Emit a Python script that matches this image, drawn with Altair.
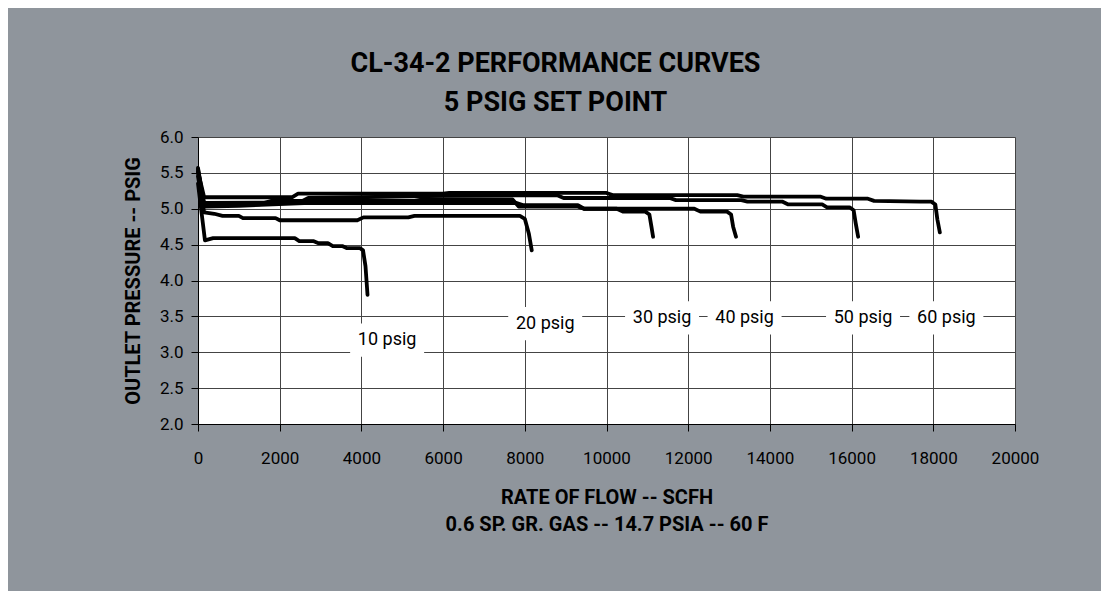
import altair as alt
import pandas as pd

# ---- data ----
flow_10 = [0, 170, 370, 2370, 2480, 2820, 2950, 3180, 3300, 3530, 3650, 3970, 4040, 4100, 4150]
p_10 = [5.35, 4.56, 4.59, 4.59, 4.55, 4.55, 4.52, 4.52, 4.48, 4.48, 4.45, 4.45, 4.42, 4.20, 3.80]

flow_20 = [0, 150, 400, 600, 1000, 1100, 1900, 2000, 3900, 4050, 5150, 5300, 7880, 8000, 8100, 8170]
p_20 = [5.45, 4.95, 4.93, 4.90, 4.90, 4.87, 4.87, 4.84, 4.84, 4.88, 4.88, 4.90, 4.90, 4.86, 4.65, 4.42]

flow_30 = [0, 150, 1000, 2600, 7800, 7950, 9300, 9450, 10250, 10400, 10950, 11050, 11100, 11140]
p_30 = [5.55, 5.03, 5.04, 5.08, 5.08, 5.05, 5.05, 5.00, 5.00, 4.96, 4.96, 4.92, 4.75, 4.61]

flow_40 = [0, 150, 1500, 1800, 5300, 5500, 7700, 7850, 9300, 9450, 12150, 12300, 12950, 13050, 13100, 13170]
p_40 = [5.57, 5.05, 5.06, 5.11, 5.11, 5.13, 5.13, 5.03, 5.03, 5.00, 5.00, 4.96, 4.96, 4.92, 4.75, 4.61]

flow_50 = [0, 150, 2500, 2700, 6000, 8780, 8950, 11550, 11700, 13300, 13450, 14300, 14450, 15280, 15400, 15950, 16050, 16100, 16160]
p_50 = [5.50, 5.08, 5.09, 5.15, 5.18, 5.19, 5.15, 5.15, 5.12, 5.12, 5.10, 5.10, 5.06, 5.06, 5.02, 5.02, 4.98, 4.80, 4.61]

flow_60 = [0, 150, 2300, 2450, 6000, 6150, 10000, 10150, 13200, 13350, 15230, 15380, 16400, 16550, 17680, 17950, 18050, 18100, 18160]
p_60 = [5.52, 5.16, 5.16, 5.21, 5.21, 5.22, 5.22, 5.19, 5.19, 5.17, 5.17, 5.14, 5.14, 5.11, 5.10, 5.10, 5.06, 4.85, 4.67]

curve_names = ["10 psig", "20 psig", "30 psig", "40 psig", "50 psig", "60 psig"]
curve_flows = [flow_10, flow_20, flow_30, flow_40, flow_50, flow_60]
curve_pressures = [p_10, p_20, p_30, p_40, p_50, p_60]

label_text = ["10 psig", "20 psig", "30 psig", "40 psig", "50 psig", "60 psig"]
label_flow = [4630, 8500, 11360, 13380, 16280, 18320]
label_pressure = [3.17, 3.40, 3.48, 3.48, 3.48, 3.48]

x_ticks = [0, 2000, 4000, 6000, 8000, 10000, 12000, 14000, 16000, 18000, 20000]
y_ticks = [2.0, 2.5, 3.0, 3.5, 4.0, 4.5, 5.0, 5.5, 6.0]

# ---- build tables ----
rows = []
for name, fl, pr in zip(curve_names, curve_flows, curve_pressures):
    for i, (f, p) in enumerate(zip(fl, pr)):
        rows.append({"curve": name, "flow": f, "pressure": p, "order": i})
df = pd.DataFrame(rows)
labels = pd.DataFrame({"text": label_text, "flow": label_flow, "pressure": label_pressure})

FONT = "Roboto, Liberation Sans, sans-serif"
BG = "#8f959c"

x_axis = alt.Axis(
    values=x_ticks, format="d",
    title=["RATE OF FLOW -- SCFH", "0.6 SP. GR. GAS -- 14.7 PSIA -- 60 F"],
    titleFont=FONT, titleFontSize=20, titleFontWeight="bold", titleColor="black",
    titleLineHeight=27, titlePadding=21,
    labelFont=FONT, labelFontSize=17, labelColor="black", labelPadding=19,
    labelFlush=False, labelOverlap=False,
    tickColor="black", tickSize=7, domainColor="black",
    gridColor="#444444", gridWidth=1, gridOpacity=1,
)
y_axis = alt.Axis(
    values=y_ticks, format=".1f", tickCount=9,
    title="OUTLET PRESSURE -- PSIG",
    titleFont=FONT, titleFontSize=20, titleFontWeight="bold", titleColor="black",
    titlePadding=16,
    labelFont=FONT, labelFontSize=17, labelColor="black", labelPadding=8,
    labelFlush=False, labelOverlap=False,
    tickColor="black", tickSize=7, domainColor="black",
    gridColor="#444444", gridWidth=1, gridOpacity=1,
)
x_scale = alt.Scale(domain=[0, 20000], nice=False, zero=False)
y_scale = alt.Scale(domain=[2, 6], nice=False, zero=False)

lines = alt.Chart(df).mark_line(
    color="black", strokeWidth=3.8, strokeCap="round", strokeJoin="round"
).encode(
    x=alt.X("flow:Q", scale=x_scale, axis=x_axis),
    y=alt.Y("pressure:Q", scale=y_scale, axis=y_axis),
    detail="curve:N", order="order:Q",
)

boxes = alt.Chart(labels).mark_point(
    shape="M-1,-0.45L1,-0.45L1,0.45L-1,0.45Z", filled=True, color="white",
    opacity=1, size=5476, strokeWidth=0
).encode(
    x=alt.X("flow:Q", scale=x_scale, axis=x_axis),
    y=alt.Y("pressure:Q", scale=y_scale, axis=y_axis),
)

texts = alt.Chart(labels).mark_text(
    font=FONT, fontSize=18, color="black"
).encode(
    x=alt.X("flow:Q", scale=x_scale, axis=x_axis),
    y=alt.Y("pressure:Q", scale=y_scale, axis=y_axis),
    text="text:N",
)

chart = alt.layer(lines, boxes, texts).properties(
    width=817, height=287,
    padding={"left": 190, "top": 129, "right": 86, "bottom": 167},
    autosize=alt.AutoSizeParams(type="none"),
    background=BG,
    title=alt.TitleParams(
        ["CL-34-2 PERFORMANCE CURVES", "5 PSIG SET POINT"],
        font=FONT, fontSize=27, fontWeight="bold", color="black",
        anchor="middle", dx=-51, offset=11, lineHeight=39,
    ),
).configure_view(fill="white", strokeWidth=0)

chart.save("out.html", embed_options={"renderer": "svg", "actions": False})
